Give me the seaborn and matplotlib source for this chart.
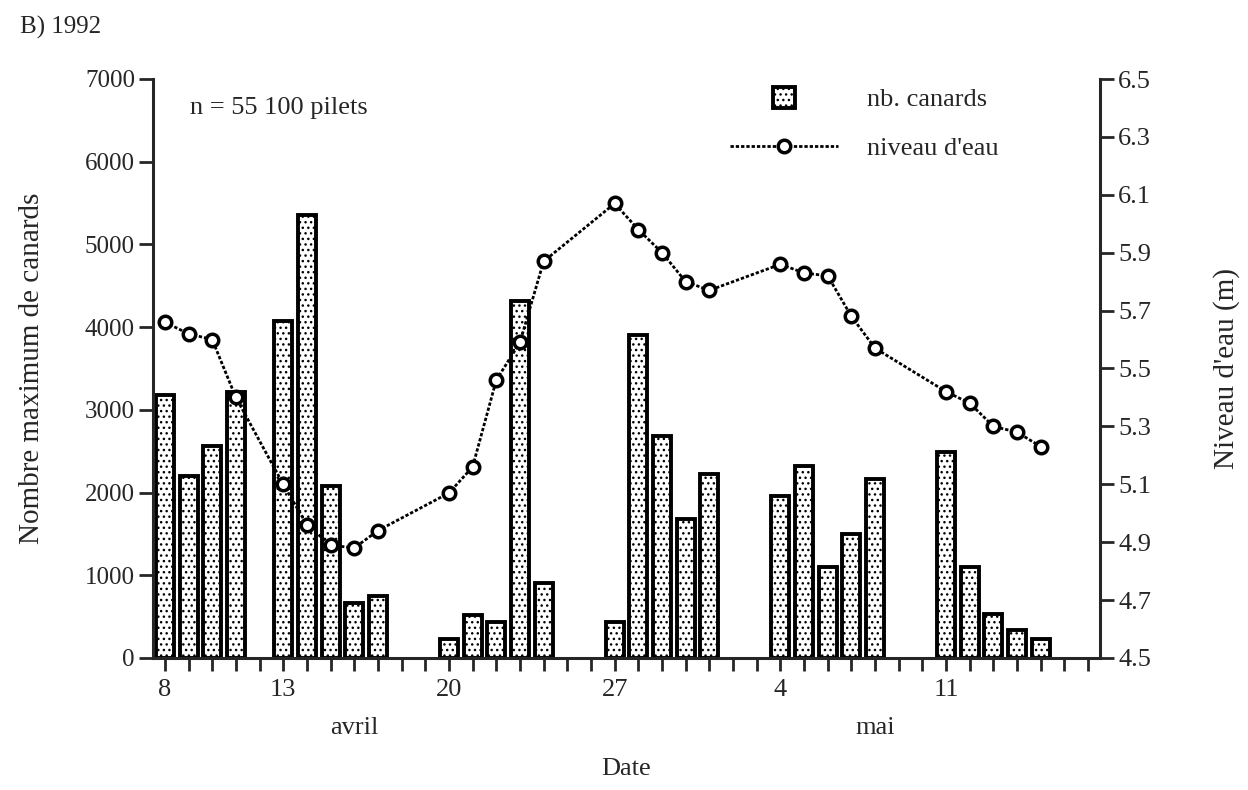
import matplotlib
matplotlib.use('Agg')
import matplotlib.pyplot as plt
import matplotlib.transforms as mtransforms
import seaborn as sns
from matplotlib.patches import Patch, Rectangle
from matplotlib.lines import Line2D
from matplotlib.legend_handler import HandlerPatch

# jours comptés depuis le 8 avril 1992 (0 = 8 avril, 23 = 1er mai)
n_jours = 40
jours_canards = [0, 1, 2, 3, 5, 6, 7, 8, 9, 12, 13, 14, 15, 16, 19, 20, 21, 22, 23,
                 26, 27, 28, 29, 30, 33, 34, 35, 36, 37]
nb_canards = [3180, 2200, 2560, 3220, 4080, 5360, 2080, 670, 750, 230, 520, 440, 4320, 910,
              430, 3910, 2680, 1680, 2220, 1960, 2320, 1100, 1500, 2160, 2490, 1100, 530, 340, 230]

jours_niveau = [0, 1, 2, 3, 5, 6, 7, 8, 9, 12, 13, 14, 15, 16, 19, 20, 21, 22, 23,
                26, 27, 28, 29, 30, 33, 34, 35, 36, 37]
niveau = [5.66, 5.62, 5.60, 5.40, 5.10, 4.96, 4.89, 4.88, 4.94, 5.07, 5.16, 5.46, 5.59, 5.87,
          6.07, 5.98, 5.90, 5.80, 5.77, 5.86, 5.83, 5.82, 5.68, 5.57, 5.42, 5.38, 5.30, 5.28, 5.23]

jours_etiquettes = [0, 5, 12, 19, 26, 33]
etiquettes = ['8', '13', '20', '27', '4', '11']
ticks_canards = [0, 1000, 2000, 3000, 4000, 5000, 6000, 7000]
ticks_niveau = [4.5, 4.7, 4.9, 5.1, 5.3, 5.5, 5.7, 5.9, 6.1, 6.3, 6.5]

sns.set_style('ticks')
plt.rcParams['font.family'] = ['Liberation Serif', 'DejaVu Serif']
plt.rcParams['hatch.linewidth'] = 1.0

fig = plt.figure(figsize=(12.48, 7.9), dpi=100)
ax = fig.add_axes([0.1226, 0.1671, 0.7588, 0.7329])

sns.barplot(x=jours_canards, y=nb_canards, native_scale=True, width=0.76, errorbar=None,
            color='white', edgecolor='black', linewidth=2.8, hatch='...', ax=ax)

ax2 = ax.twinx()
sns.lineplot(x=jours_niveau, y=niveau, ax=ax2, color='black', linestyle=(0, (1.2, 0.7)),
             linewidth=2, marker='o', markersize=9, markerfacecolor='white',
             markeredgecolor='black', markeredgewidth=2.5)

ax.set_xlim(-0.5, n_jours - 0.5)
ax.set_ylim(0, 7000)
ax2.set_ylim(4.5, 6.5)

ax.set_xticks(range(n_jours))
ax.set_xticklabels([etiquettes[jours_etiquettes.index(j)] if j in jours_etiquettes else ''
                    for j in range(n_jours)])
ax.set_yticks(ticks_canards)
ax2.set_yticks(ticks_niveau)
ax2.set_yticklabels(['%.1f' % t for t in ticks_niveau])

ax.tick_params(axis='x', direction='out', length=9, width=2, pad=6, labelsize=19)
ax.tick_params(axis='y', direction='out', length=10, width=2, pad=3, labelsize=18)
ax2.tick_params(axis='y', direction='out', length=10, width=2, pad=3, labelsize=19)

for s in ['top', 'right']:
    ax.spines[s].set_visible(False)
for s in ['top', 'left', 'bottom']:
    ax2.spines[s].set_visible(False)
ax.spines['left'].set_linewidth(2.2)
ax.spines['bottom'].set_linewidth(2.2)
ax2.spines['right'].set_linewidth(2.2)

ax.set_ylabel('Nombre maximum de canards', fontsize=21)
ax.yaxis.set_label_coords(-0.114, 0.5)
ax2.set_ylabel("Niveau d'eau (m)", fontsize=21)
ax2.yaxis.set_label_coords(1.119, 0.5)
ax.set_xlabel('Date', fontsize=19)
ax.xaxis.set_label_coords(0.5, -0.172)

trans = mtransforms.blended_transform_factory(ax.transData, ax.transAxes)
ax.text(8, -0.121, 'avril', transform=trans, ha='center', va='center', fontsize=19)
ax.text(30, -0.121, 'mai', transform=trans, ha='center', va='center', fontsize=19)

fig.text(20 / 1248, 1 - 27 / 790, 'B) 1992', ha='left', va='center', fontsize=18)
ax.text(0.039, 0.95, 'n = 55 100 pilets', transform=ax.transAxes, ha='left', va='center',
        fontsize=19)


def carre(legend, orig_handle, xdescent, ydescent, width, height, fontsize):
    c = height * 1.15
    return Rectangle((width / 2 - c / 2 - xdescent, height / 2 - c / 2 - ydescent), c, c)


h_bar = Patch(facecolor='white', edgecolor='black', linewidth=2.8, hatch='...')
h_line = Line2D([], [], color='black', linestyle=(0, (1.2, 0.7)), linewidth=2, marker='o',
                markersize=9, markerfacecolor='white', markeredgecolor='black',
                markeredgewidth=2.5)
fig.legend([h_bar, h_line], ['nb. canards', "niveau d'eau"], loc='upper left',
           bbox_to_anchor=(730 / 1248, 1 - 88 / 790), frameon=False, fontsize=19,
           handlelength=4.1, handletextpad=1.1, labelspacing=0.95, borderpad=0,
           borderaxespad=0, numpoints=1, handler_map={Patch: HandlerPatch(patch_func=carre)})

fig.savefig('out.png', dpi=100)
